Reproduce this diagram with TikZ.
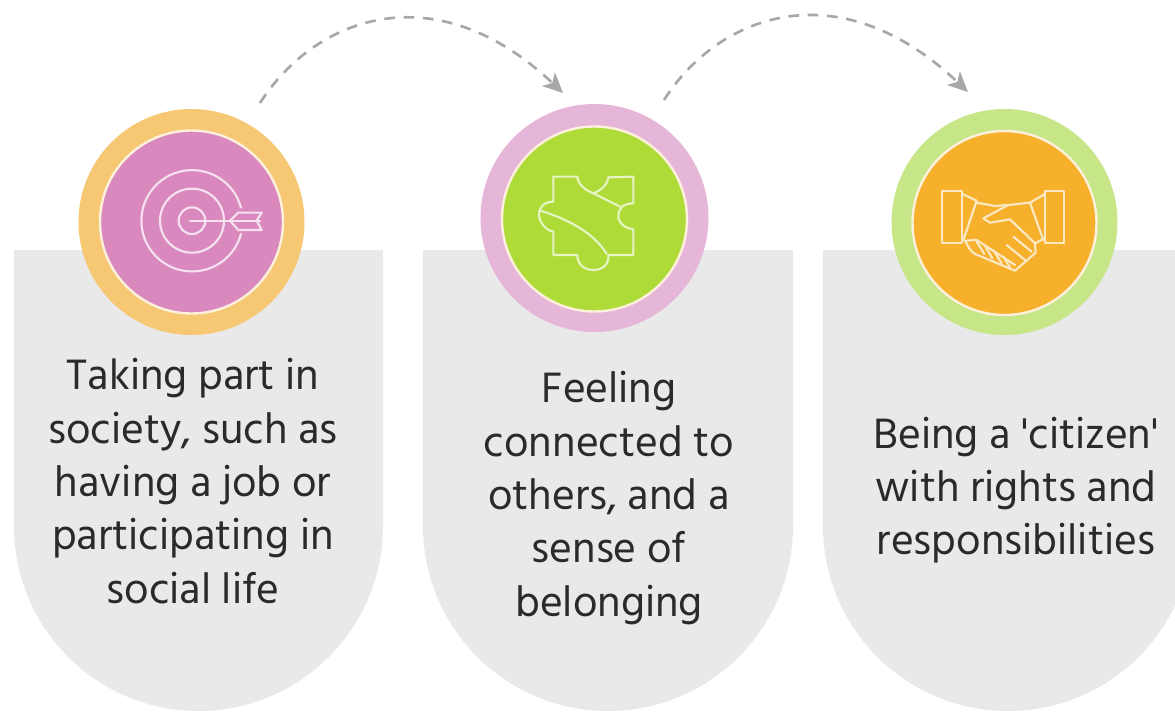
\documentclass[tikz,border=0pt]{standalone}
\usepackage{fontspec}
\newfontfamily\labfont{Hind Madurai}
\usetikzlibrary{arrows.meta}
\definecolor{cardgrey}{HTML}{E9E9E9}
\definecolor{ringorange}{HTML}{F6C873}
\definecolor{fillpink}{HTML}{D989BE}
\definecolor{ringpink}{HTML}{E6B6D8}
\definecolor{fillgreen}{HTML}{AEDB38}
\definecolor{ringgreen}{HTML}{C6E688}
\definecolor{fillorange}{HTML}{F6B02B}
\definecolor{arrowgrey}{HTML}{A8A8A8}
\definecolor{textdark}{HTML}{2A2A2A}
\tikzset{
  x=0.75pt,y=-0.75pt,
  cardshape/.style={fill=cardgrey,draw=none},
  ringshape/.style={circle,inner sep=0pt,minimum size=#1*0.75pt,draw=none},
  coreshape/.style={circle,inner sep=0pt,minimum size=#1*0.75pt,draw=white!75!ringorange,line width=1.8pt},
  cardtext/.style={font=\labfont\fontsize{32.7}{40}\selectfont,text=textdark,align=center,inner sep=0pt},
  flowarrow/.style={draw=arrowgrey,line width=2pt,dash pattern=on 8pt off 6.5pt,-{Stealth[length=15pt,width=14pt,inset=4pt]}},
  iconpink/.style={draw=#1,line width=1.6pt,line join=round,line cap=round}
}
\begin{document}
\begin{tikzpicture}
\useasboundingbox (0,0) rectangle (1175,711);
\begin{scope}
\clip (0,0) rectangle (1175,711);
% cards
\path[cardshape] (14,250) -- (383,250) -- (383,526) arc[start angle=0,end angle=-180,x radius=184.5,y radius=-185] -- cycle;
\path[cardshape] (423,250) -- (793,250) -- (793,526) arc[start angle=0,end angle=-180,x radius=185,y radius=-185] -- cycle;
\path[cardshape] (823,250) -- (1193,250) -- (1193,526) arc[start angle=0,end angle=-180,x radius=185,y radius=-185] -- cycle;
\end{scope}
% circles
\node[ringshape=226,fill=ringorange] (ringa) at (191.5,222) {};
\node[coreshape=183,fill=fillpink] (corea) at (191.5,222) {};
\node[ringshape=228,fill=ringpink] (ringb) at (594.5,218) {};
\node[coreshape=185,fill=fillgreen] (coreb) at (594.5,219) {};
\node[ringshape=226,fill=ringgreen] (ringc) at (1004.5,222) {};
\node[coreshape=184,fill=fillorange] (corec) at (1004.5,223) {};
% target icon
\begin{scope}[shift={(60,90)},scale=1/3,iconpink=white!75!fillpink]
  \draw (396,392) circle[radius=40];
  \draw (396,392) circle[radius=96];
  \draw (543,353) arc[start angle=15,end angle=345,x radius=152,y radius=-152];
  \draw (390,392) -- (600,392);
  \draw (510,392) -- (535,368) -- (605,368) -- (590,392) -- (605,420) -- (535,420) -- cycle;
  \draw (535,392) -- (590,392);
\end{scope}
% puzzle icon
\begin{scope}[shift={(470,90)},scale=1/3,iconpink=white!70!fillgreen]
  \draw (250,260) -- (322,260) .. controls (325,285) and (345,300) .. (370,310)
     .. controls (395,300) and (412,285) .. (415,262) -- (490,260) -- (490,340)
     .. controls (460,340) and (445,355) .. (445,378) .. controls (445,400) and (465,415) .. (490,417)
     -- (490,495) -- (415,495) .. controls (418,525) and (395,540) .. (370,540)
     .. controls (345,540) and (322,525) .. (322,495) -- (250,495) -- (250,425)
     .. controls (225,420) and (207,395) .. (207,372) .. controls (207,350) and (225,335) .. (250,335) -- cycle;
  \draw (370,310) -- (450,350);
  \draw (210,362) .. controls (290,385) and (375,430) .. (410,492);
\end{scope}
% handshake icon
\begin{scope}[shift={(935,180)},scale=1/3,iconpink=white!72!fillorange]
  \draw (22,32) rectangle (82,190);
  \draw (330,32) rectangle (388,190);
  \draw (82,42) -- (125,62) -- (85,180);
  \draw (330,42) -- (285,68) -- (325,180);
  \draw (125,68) -- (180,78) -- (215,75);
  \draw (285,68) -- (220,75) -- (145,115) -- (165,128) -- (225,118) -- (300,190) -- (322,178);
  \draw (90,182) .. controls (100,200) and (105,212) .. (120,222) -- (240,272) -- (302,218) -- (300,190);
  \draw (90,182) -- (125,180) -- (240,255);
  \draw (125,185) -- (148,222);
  \draw (150,197) -- (172,235);
  \draw (175,210) -- (200,250);
  \draw (205,230) -- (225,262);
  \draw (215,195) -- (270,240);
  \draw (235,170) -- (290,215);
\end{scope}
% arrows
\coordinate (fromA) at (260,103);
\coordinate (toB) at (563,93);
\coordinate (fromB) at (664,100);
\coordinate (toC) at (968,92);
\draw[flowarrow] (fromA) .. controls (315,17) and (435,-28) .. (toB);
\draw[flowarrow] (fromB) .. controls (718,15) and (838,-31) .. (toC);
% labels
\node[cardtext] (texta) at (193,481) {Taking part in\\society, such as\\having a job or\\participating in\\social life};
\node[cardtext] (textb) at (609,498) {Feeling\\connected to\\others, and a\\sense of\\belonging};
\node[cardtext] (textc) at (1016,490) {Being a 'citizen'\\with rights and\\responsibilities};
\end{tikzpicture}
\end{document}
